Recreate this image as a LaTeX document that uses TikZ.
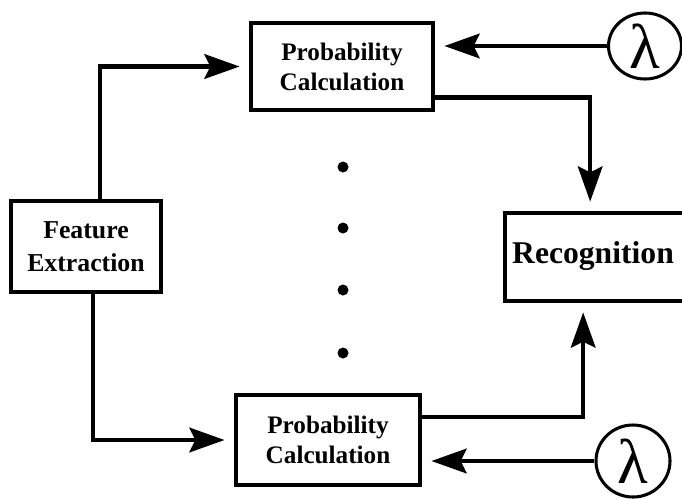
\documentclass[tikz,border=0pt]{standalone}
\usepackage{fontspec}
\setmainfont{Liberation Serif}
\usetikzlibrary{arrows.meta,shapes.geometric}

\tikzset{
    block/.style={draw, line width=3.5pt, align=center, inner sep=0pt,
        font=\bfseries\fontsize{21.5}{25.5}\selectfont},
    lam/.style={draw, ellipse, line width=2.6pt, inner sep=0pt,
        font=\fontsize{54}{54}\selectfont},
    arr/.style={line width=3.5pt, -{Stealth[length=30pt,width=21pt,inset=5pt]},
        shorten >=8pt},
    pt/.style={circle, fill, inner sep=0pt, minimum size=0.33cm}
}

\begin{document}
\begin{tikzpicture}[x=0.03cm, y=-0.03cm]
        \useasboundingbox (0,0) rectangle (682,498);
        \node[block, minimum width=5.46cm, minimum height=2.61cm] (pc1) at (342,66.5) {Probability\\Calculation};
        \node[block, minimum width=5.52cm, minimum height=2.7cm] (pc2) at (328,440) {Probability\\Calculation};
        \node[block, minimum width=4.5cm, minimum height=2.73cm,
              font=\bfseries\fontsize{22}{28}\selectfont] (fe) at (86,246.5) {Feature\\Extraction};
        \node[block, minimum width=5.55cm, minimum height=2.64cm] (rec) at (597.5,257) {};
        \node[font=\bfseries\fontsize{27}{30}\selectfont] (rectext) at (593,256) {Recognition};
        \node[lam, minimum width=2.19cm, minimum height=1.98cm] (lam1) at (645,46) {λ};
        \node[lam, minimum width=2.22cm, minimum height=2.16cm] (lam2) at (633,461) {λ};
        \foreach \y [count=\i] in {167,228,290,353}
            \node[pt] (dot\i) at (343,\y) {};

        \draw[arr] ([xshift=0.42cm]fe.north) |- (pc1.west);
        \draw[arr] ([xshift=0.2cm]fe.south) |- (pc2.west);
        \draw[arr] ([yshift=-0.93cm]pc1.east) -| ([xshift=-0.22cm]rec.north);
        \draw[arr] ([yshift=0.69cm]pc2.east) -| ([xshift=-0.43cm]rec.south);
        \draw[arr] (lam1.west) -- (lam1.west -| pc1.east);
        \draw[arr] (lam2.west) -- (lam2.west -| pc2.east);
\end{tikzpicture}
\end{document}
